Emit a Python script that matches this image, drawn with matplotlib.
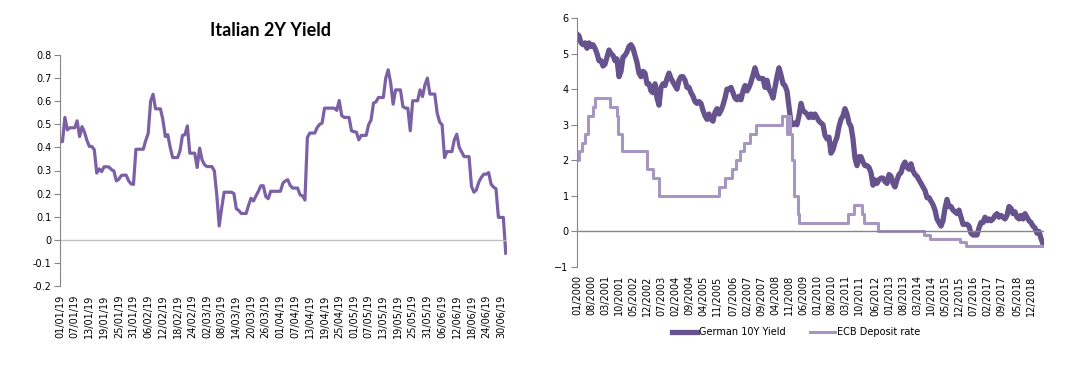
import numpy as np
import pandas as pd
import matplotlib
matplotlib.use('Agg')
import matplotlib.pyplot as plt

plt.rcParams['font.family'] = ['DejaVu Sans']

# Italian 2Y yield, daily from 01/01/2019
it_start = '2019-01-01'
it_2y = [0.425, 0.425, 0.53, 0.476, 0.485, 0.485, 0.485, 0.515, 0.447, 0.49,
         0.466, 0.43, 0.404, 0.404, 0.39, 0.289, 0.307, 0.295, 0.316, 0.316,
         0.315, 0.304, 0.298, 0.255, 0.262, 0.278, 0.28, 0.28, 0.256, 0.242,
         0.24, 0.392, 0.392, 0.392, 0.392, 0.43, 0.46, 0.60, 0.63, 0.567,
         0.567, 0.567, 0.52, 0.447, 0.455, 0.40, 0.356, 0.356, 0.356, 0.385,
         0.452, 0.455, 0.493, 0.375, 0.375, 0.375, 0.313, 0.397, 0.346, 0.325,
         0.317, 0.317, 0.317, 0.299, 0.195, 0.06, 0.137, 0.206, 0.206, 0.206,
         0.206, 0.2, 0.134, 0.127, 0.114, 0.114, 0.114, 0.15, 0.18, 0.168,
         0.19, 0.21, 0.234, 0.234, 0.188, 0.178, 0.21, 0.21, 0.21, 0.21,
         0.21, 0.245, 0.255, 0.26, 0.235, 0.224, 0.224, 0.224, 0.195, 0.19,
         0.172, 0.443, 0.462, 0.462, 0.462, 0.486, 0.5, 0.505, 0.57, 0.57,
         0.57, 0.57, 0.57, 0.56, 0.603, 0.538, 0.53, 0.53, 0.53, 0.472,
         0.468, 0.466, 0.433, 0.452, 0.452, 0.452, 0.498, 0.519, 0.592, 0.597,
         0.616, 0.616, 0.616, 0.70, 0.736, 0.68, 0.587, 0.649, 0.649, 0.649,
         0.577, 0.57, 0.57, 0.472, 0.602, 0.602, 0.602, 0.649, 0.62, 0.671,
         0.70, 0.631, 0.631, 0.631, 0.548, 0.51, 0.498, 0.356, 0.382, 0.382,
         0.382, 0.433, 0.457, 0.40, 0.38, 0.36, 0.36, 0.36, 0.231, 0.206,
         0.216, 0.25, 0.27, 0.284, 0.284, 0.291, 0.241, 0.228, 0.221, 0.097,
         0.097, 0.097, -0.058]

# German 10Y yield, monthly from 01/2000
de_start = '2000-01'
de_10y = [5.55, 5.5, 5.3, 5.25, 5.3, 5.15, 5.3, 5.2, 5.25, 5.15, 5.0, 4.8,
          4.8, 4.65, 4.7, 4.9, 5.1, 5.0, 4.95, 4.8, 4.85, 4.35, 4.5, 4.9,
          4.95, 5.05, 5.2, 5.25, 5.15, 4.95, 4.75, 4.45, 4.35, 4.5, 4.45, 4.15,
          4.15, 3.95, 3.9, 4.15, 3.75, 3.55, 4.05, 4.15, 4.1, 4.3, 4.45, 4.3,
          4.2, 4.1, 4.0, 4.25, 4.35, 4.35, 4.25, 4.05, 4.05, 3.9, 3.8, 3.65,
          3.6, 3.65, 3.6, 3.4, 3.25, 3.15, 3.3, 3.15, 3.1, 3.35, 3.45, 3.3,
          3.4, 3.55, 3.75, 4.0, 4.0, 4.05, 3.9, 3.75, 3.7, 3.8, 3.7, 3.95,
          4.1, 3.95, 4.05, 4.2, 4.4, 4.6, 4.4, 4.3, 4.3, 4.3, 4.05, 4.25,
          4.0, 3.9, 3.75, 4.05, 4.35, 4.6, 4.4, 4.15, 4.1, 3.95, 3.5, 3.05,
          3.0, 3.05, 3.0, 3.25, 3.6, 3.4, 3.35, 3.3, 3.2, 3.3, 3.2, 3.3,
          3.2, 3.1, 3.05, 3.0, 2.7, 2.6, 2.65, 2.2, 2.3, 2.5, 2.65, 2.95,
          3.15, 3.25, 3.45, 3.3, 3.05, 2.95, 2.6, 2.05, 1.85, 2.1, 2.1, 1.95,
          1.85, 1.85, 1.8, 1.65, 1.3, 1.45, 1.35, 1.45, 1.5, 1.5, 1.4, 1.35,
          1.6, 1.55, 1.35, 1.25, 1.45, 1.6, 1.65, 1.85, 1.95, 1.8, 1.75, 1.9,
          1.7, 1.6, 1.55, 1.45, 1.35, 1.25, 1.15, 0.95, 0.95, 0.85, 0.75, 0.6,
          0.35, 0.25, 0.15, 0.3, 0.65, 0.9, 0.7, 0.7, 0.6, 0.55, 0.5, 0.6,
          0.4, 0.2, 0.2, 0.2, 0.15, -0.05, -0.1, -0.1, -0.1, 0.1, 0.25, 0.25,
          0.4, 0.3, 0.35, 0.3, 0.35, 0.45, 0.5, 0.4, 0.45, 0.4, 0.35, 0.45,
          0.7, 0.65, 0.5, 0.55, 0.4, 0.35, 0.45, 0.35, 0.5, 0.4, 0.3, 0.25,
          0.15, 0.1, -0.05, 0.0, -0.2, -0.35]

# ECB deposit rate changes
ecb_dates = ['2000-01-01', '2000-02-04', '2000-03-17', '2000-04-28', '2000-06-09',
             '2000-09-01', '2000-10-06', '2001-05-11', '2001-08-31', '2001-09-18',
             '2001-11-09', '2002-12-06', '2003-03-07', '2003-06-06', '2005-12-06',
             '2006-03-08', '2006-06-15', '2006-08-09', '2006-10-11', '2006-12-13',
             '2007-03-14', '2007-06-13', '2008-07-09', '2008-10-08', '2008-10-09',
             '2008-11-12', '2008-12-10', '2009-01-21', '2009-03-11', '2009-04-08',
             '2011-04-13', '2011-07-13', '2011-11-09', '2011-12-14', '2012-07-11',
             '2014-06-11', '2014-09-10', '2015-12-09', '2016-03-16', '2019-07-01']
ecb_rate = [2.00, 2.25, 2.50, 2.75, 3.25, 3.50, 3.75, 3.50, 3.25, 2.75,
            2.25, 1.75, 1.50, 1.00, 1.25, 1.50, 1.75, 2.00, 2.25, 2.50,
            2.75, 3.00, 3.25, 2.75, 3.25, 2.75, 2.00, 1.00, 0.50, 0.25,
            0.50, 0.75, 0.50, 0.25, 0.00, -0.10, -0.20, -0.30, -0.40, -0.40]

right_ticklabels = ['01/2000', '08/2000', '03/2001', '10/2001', '05/2002', '12/2002',
                    '07/2003', '02/2004', '09/2004', '04/2005', '11/2005', '07/2006',
                    '02/2007', '09/2007', '04/2008', '11/2008', '06/2009', '01/2010',
                    '08/2010', '03/2011', '10/2011', '06/2012', '01/2013', '08/2013',
                    '03/2014', '10/2014', '05/2015', '12/2015', '07/2016', '02/2017',
                    '09/2017', '05/2018', '12/2018']

axis_grey = '#868686'
c_it = '#7b60a6'
c_de = '#66528c'
c_ecb = '#a597c2'

fig = plt.figure(figsize=(10.83, 3.84), dpi=100)

# ---------- left: Italian 2Y ----------
ax1 = fig.add_axes([60/1083, 1-286/384, 447/1083, 231/384])
days = pd.date_range(it_start, periods=len(it_2y), freq='D')
xd = np.arange(len(it_2y))
ax1.plot(xd, it_2y, color=c_it, lw=2.3, solid_joinstyle='round')
ax1.axhline(0, color='#bfbfbf', lw=1)
ax1.set_xlim(0, len(it_2y) - 0.5)
ax1.set_ylim(-0.2, 0.8)
ax1.set_yticks(np.arange(-0.2, 0.81, 0.1))
ax1.set_yticklabels(['%g' % round(v, 1) for v in np.arange(-0.2, 0.81, 0.1)])
ticks1 = xd[::6]
ax1.set_xticks(ticks1)
ax1.set_xticklabels([days[i].strftime('%d/%m/%y') for i in ticks1], rotation=90)
for s in ['top', 'right', 'bottom']:
    ax1.spines[s].set_visible(False)
ax1.spines['left'].set_color(axis_grey)
ax1.tick_params(axis='y', colors='black', labelsize=7, length=4, color=axis_grey, pad=2)
ax1.tick_params(axis='x', labelsize=7, length=0, pad=6)
fig.text(271/1083, 1-30/384, 'Italian 2Y Yield', ha='center', va='center',
         fontsize=13, fontweight='bold', family=['Lato', 'DejaVu Sans'])

# ---------- right: German 10Y vs ECB ----------
ax2 = fig.add_axes([577/1083, 1-267/384, 467/1083, 249/384])
xm = np.arange(len(de_10y))
ax2.plot(xm, de_10y, color=c_de, lw=3.8, label='German 10Y Yield')

base = pd.Timestamp(de_start + '-01')
ecb_dt = pd.to_datetime(ecb_dates)
ecb_x = [(d.year - base.year) * 12 + (d.month - 1) + (d.day - 1) / d.days_in_month
         for d in ecb_dt]
ax2.plot(ecb_x, ecb_rate, color=c_ecb, lw=2.2, drawstyle='steps-post',
         label='ECB Deposit rate')
ax2.axhline(0, color=axis_grey, lw=1)
ax2.set_xlim(0, len(de_10y) - 0.5)
ax2.set_ylim(-1, 6)
ax2.set_yticks(range(-1, 7))
tick_x = [(int(t[3:]) - base.year) * 12 + int(t[:2]) - 1 for t in right_ticklabels]
ax2.set_xticks(tick_x)
ax2.set_xticklabels(right_ticklabels, rotation=90)
for s in ['top', 'right', 'bottom']:
    ax2.spines[s].set_visible(False)
ax2.spines['left'].set_color(axis_grey)
ax2.tick_params(axis='y', labelsize=7, length=4, color=axis_grey, pad=2)
ax2.tick_params(axis='x', labelsize=7, length=0, pad=6)

fig.legend(loc='center', bbox_to_anchor=(796/1083, 1-332/384), ncol=2,
           frameon=False, fontsize=7, handlelength=2.6, handletextpad=0.2,
           columnspacing=2.5)

fig.savefig('out.png', dpi=100)
